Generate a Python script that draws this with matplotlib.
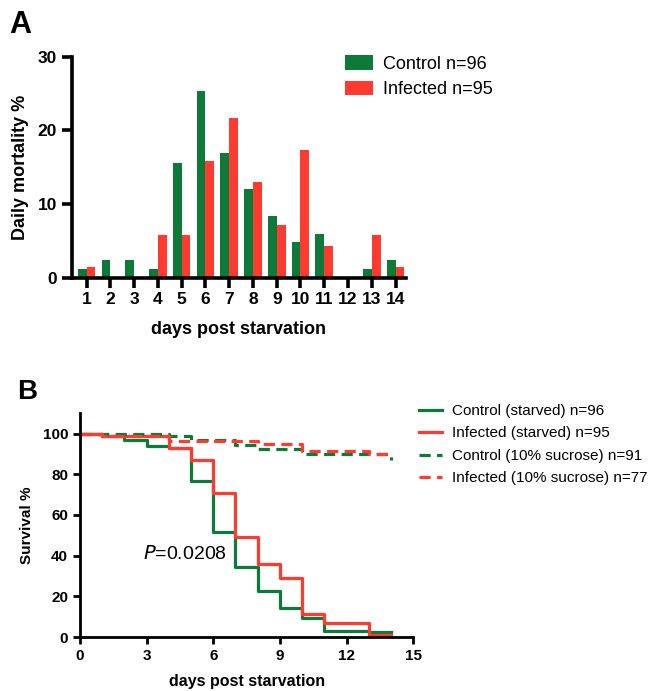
import matplotlib
matplotlib.use("Agg")
import matplotlib.pyplot as plt
import numpy as np

plt.rcParams['font.family'] = ['Liberation Sans', 'DejaVu Sans']

GREEN = '#0E7A3A'
RED = '#FF3A2E'

# panel A: daily mortality %
days = np.arange(1, 15)
control_mort = [1.2, 2.4, 2.4, 1.2, 15.6, 25.3, 16.9, 12.0, 8.4, 4.8, 6.0, 0, 1.2, 2.4]
infected_mort = [1.4, 0, 0, 5.8, 5.8, 15.9, 21.7, 13.0, 7.2, 17.4, 4.3, 0, 5.8, 1.4]

# panel B: survival curves (step after each day)
starved_days = list(range(0, 15))
control_starved = [100, 98.8, 96.6, 93.8, 92.7, 76.9, 51.5, 34.6, 22.8, 14.2, 9.4, 3.2, 3.2, 2.4, 2.4]
infected_starved = [100, 98.6, 98.6, 98.6, 92.7, 87.0, 70.9, 49.0, 36.0, 28.8, 11.4, 7.0, 7.0, 1.2, 1.2]
sucrose_ctrl_days = [0, 4, 5, 7, 8, 10, 14]
control_sucrose = [100, 98.9, 96.7, 94.5, 92.3, 90.1, 86.8]
sucrose_inf_days = [0, 1, 4, 8, 10, 13, 14]
infected_sucrose = [100, 98.7, 96.3, 95.0, 91.2, 89.9, 89.9]

fig = plt.figure(figsize=(6.52, 6.91), dpi=100)

# ---- panel A ----
ax1 = fig.add_axes([0.110, 0.598, 0.513, 0.320])
w = 0.37
ax1.bar(days - w / 2, control_mort, width=w, color=GREEN, label='Control n=96')
ax1.bar(days + w / 2, infected_mort, width=w, color=RED, label='Infected n=95')
ax1.set_xlim(0.37, 14.45)
ax1.set_ylim(0, 30)
ax1.set_xticks(days)
ax1.set_yticks([0, 10, 20, 30])
ax1.set_ylabel('Daily mortality %', fontsize=13, fontweight='bold', labelpad=6)
ax1.set_xlabel('days post starvation', fontsize=13, fontweight='bold', labelpad=10)
for s in ['top', 'right']:
    ax1.spines[s].set_visible(False)
for s in ['left', 'bottom']:
    ax1.spines[s].set_linewidth(2.6)
ax1.tick_params(width=2.6, length=7, labelsize=12.5)
for lab in ax1.get_xticklabels() + ax1.get_yticklabels():
    lab.set_fontweight('bold')
ax1.legend(loc='upper left', bbox_to_anchor=(340 / 652, 1 - 50 / 691),
           bbox_transform=fig.transFigure, frameon=False, fontsize=13,
           handlelength=1.5, handleheight=0.85, handletextpad=0.6,
           labelspacing=0.45, borderaxespad=0, borderpad=0.3)

fig.text(0.014, 0.985, 'A', fontsize=22, fontweight='bold', va='top')

# ---- panel B ----
ax2 = fig.add_axes([0.1227, 0.078, 0.511, 0.324])
lw = 2.3
ax2.step(starved_days, control_starved, where='post', color=GREEN, lw=lw,
         label='Control (starved) n=96')
ax2.step(starved_days, infected_starved, where='post', color=RED, lw=lw,
         label='Infected (starved) n=95')
ax2.step(sucrose_ctrl_days, control_sucrose, where='post', color=GREEN, lw=lw,
         ls=(0, (3.5, 2)), label='Control (10% sucrose) n=91')
ax2.step(sucrose_inf_days, infected_sucrose, where='post', color=RED, lw=lw,
         ls=(0, (3.5, 2)), label='Infected (10% sucrose) n=77')
ax2.set_xlim(0, 15)
ax2.set_ylim(0, 110)
ax2.set_xticks([0, 3, 6, 9, 12, 15])
ax2.set_yticks([0, 20, 40, 60, 80, 100])
ax2.set_ylabel('Survival %', fontsize=11, fontweight='bold', labelpad=6)
ax2.set_xlabel('days post starvation', fontsize=11.5, fontweight='bold', labelpad=8)
for s in ['top', 'right']:
    ax2.spines[s].set_visible(False)
for s in ['left', 'bottom']:
    ax2.spines[s].set_linewidth(2.0)
ax2.tick_params(width=2.0, length=5, labelsize=11)
for lab in ax2.get_xticklabels() + ax2.get_yticklabels():
    lab.set_fontweight('bold')
ax2.text(2.85, 41, '$P$=0.0208', fontsize=14, va='center', ha='left',
         math_fontfamily='custom')
ax2.legend(loc='upper left', bbox_to_anchor=(416 / 652, 1 - 401 / 691),
           bbox_transform=fig.transFigure, frameon=False, fontsize=11,
           handlelength=1.5, handletextpad=0.65, labelspacing=0.55,
           borderaxespad=0, borderpad=0.2)

fig.text(0.026, 0.452, 'B', fontsize=20, fontweight='bold', va='top')

fig.savefig('out.png', dpi=100)
